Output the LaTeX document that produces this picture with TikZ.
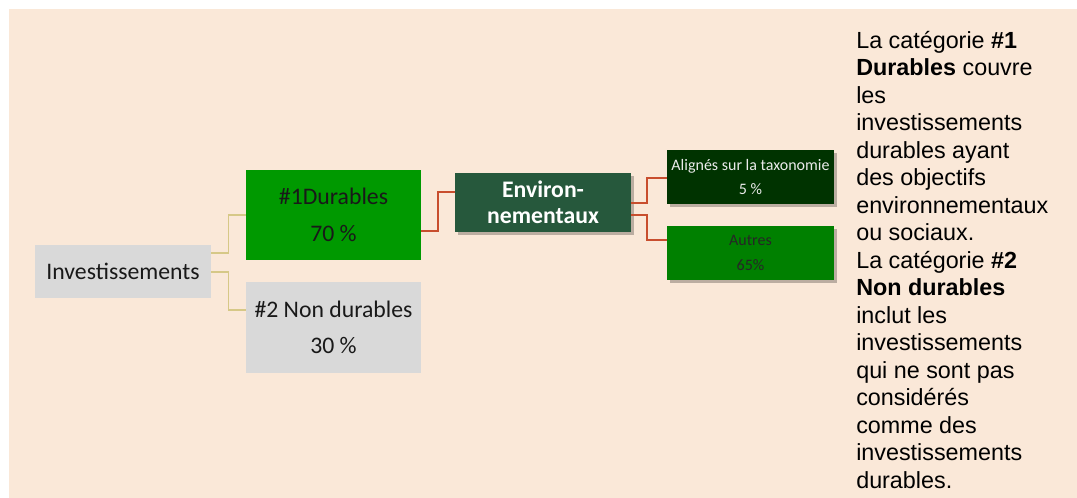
\documentclass[tikz,border=0pt]{standalone}
\usepackage{fontspec}
\setmainfont{Carlito}
\newfontfamily\arialf{Liberation Sans}
\usetikzlibrary{calc,shadows}
\definecolor{bg}{RGB}{250,232,216}
\definecolor{lgray}{RGB}{217,217,217}
\definecolor{durgreen}{RGB}{0,153,0}
\definecolor{envgreen}{RGB}{38,88,60}
\definecolor{aligngreen}{RGB}{0,51,0}
\definecolor{autgreen}{RGB}{0,128,0}
\definecolor{tanline}{RGB}{214,200,135}
\definecolor{redline}{RGB}{200,78,46}
\tikzset{
  box/.style={draw=none, inner sep=0pt, align=center, text=black!90,
    font=\fontsize{17.8pt}{21pt}\selectfont},
  smallbox/.style={draw=none, inner sep=0pt, align=center,
    font=\fontsize{12pt}{18.4pt}\selectfont,
    minimum width=125.5pt, minimum height=40.5pt},
  shad/.style={drop shadow={shadow xshift=2pt, shadow yshift=-2.2pt, opacity=0.25, fill=black}},
  tanconn/.style={draw=tanline, line width=1.1pt},
  redconn/.style={draw=redline, line width=1.5pt},
}
\begin{document}
\begin{tikzpicture}[x=0.75pt,y=-0.75pt]
\useasboundingbox (0,0) rectangle (1077,498);
\fill[bg] (9,9) rectangle (1077,498);

\node[box, fill=lgray, minimum width=132pt, minimum height=39.75pt] (inv) at (123,271.5) {Investissements};
\node[box, fill=durgreen, minimum width=131.25pt, minimum height=67.5pt] (dur) at (333.5,215) {\#1Durables\\[6.3pt]70 \%};
\node[box, fill=lgray, minimum width=131.25pt, minimum height=68.25pt] (ndur) at (333.5,327.5) {\#2 Non durables\\[6.3pt]30 \%};
\node[box, shad, fill=envgreen, text=white, minimum width=132pt, minimum height=44.25pt,
  font=\fontsize{17.8pt}{19.5pt}\selectfont\bfseries] (env) at (543,202.5) {Environ-\\nementaux};
\node[smallbox, shad, fill=aligngreen, text=white!92!black] (ali) at (750.5,177) {Alignés sur la taxonomie\\5 \%};
\node[smallbox, shad, fill=autgreen, text=black!85] (aut) at (750.5,253) {Autres\\65\%};

\draw[tanconn] ($(inv.east)+(0,-18.5)$) -| ($(inv.east)!0.5!(dur.west)$) |- (dur.west);
\draw[tanconn] ($(inv.east)+(0,0.5)$) -| ($(inv.east)!0.5!(ndur.west)$) |- ($(ndur.west)+(0,-17.5)$);
\draw[redconn] ($(dur.east)+(0,16)$) -| ($(dur.east)!0.5!(env.west)$) |- ($(env.west)+(0,-10.5)$);
\draw[redconn] ($(env.east)+(0,0.5)$) -| ($(env.east)!0.45!(ali.west)$) |- ($(ali.west)+(0,1)$);
\draw[redconn] ($(env.east)+(0,12.5)$) -| ($(env.east)!0.45!(aut.west)$) |- ($(aut.west)+(0,-13)$);

\node[anchor=base west, inner sep=0pt, align=left, text=black,
  font=\arialf\fontsize{17.5pt}{20.6pt}\selectfont] (txt) at (856,488)
  {La catégorie \textbf{\#1}\\
   \textbf{Durables} couvre\\
   les\\
   investissements\\
   durables ayant\\
   des objectifs\\
   environnementaux\\
   ou sociaux.\\
   La catégorie \textbf{\#2}\\
   \textbf{Non durables}\\
   inclut les\\
   investissements\\
   qui ne sont pas\\
   considérés\\
   comme des\\
   investissements\\
   durables.};
\end{tikzpicture}
\end{document}
